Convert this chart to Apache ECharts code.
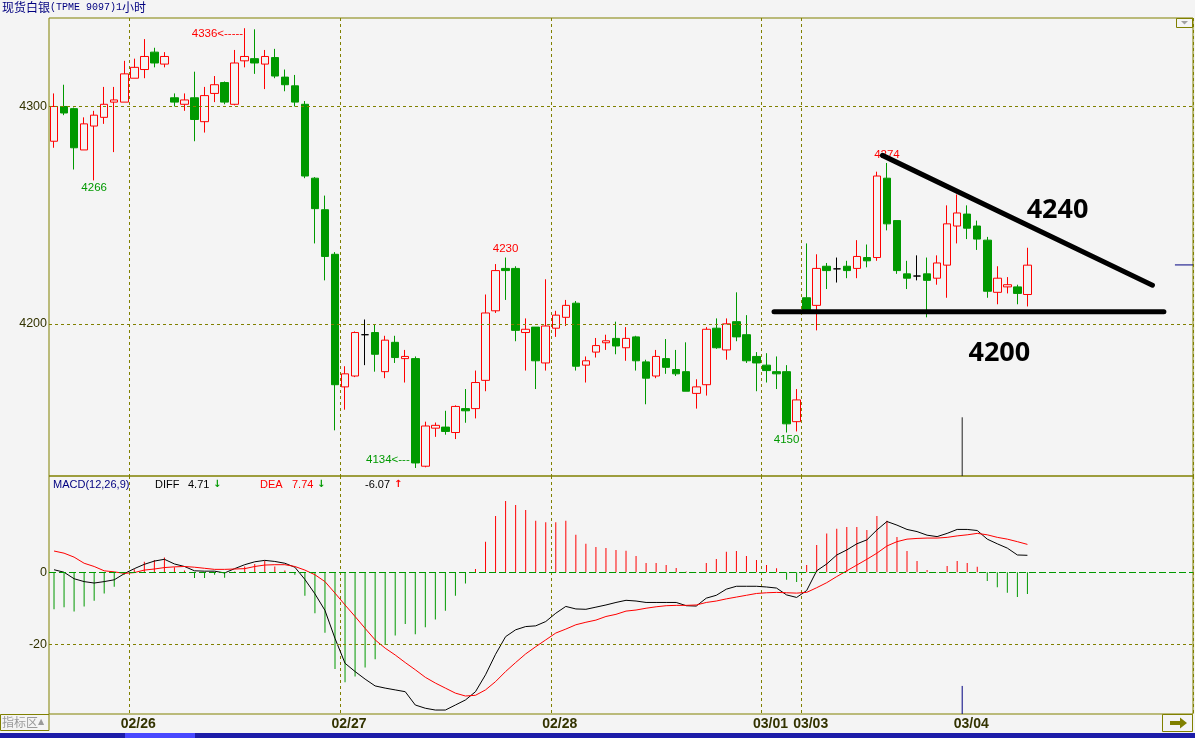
<!DOCTYPE html>
<html><head><meta charset="utf-8">
<script src="https://cdn.jsdelivr.net/npm/echarts@6/dist/echarts.min.js"></script>
<style>html,body{margin:0;padding:0;background:#f4f4f4;}#c{width:1195px;height:738px;}</style>
</head><body><div id="c"></div>
<script>
// ---------------- data ----------------
const opens = [4284,4300,4299,4280,4291,4295,4302,4302,4313,4317,
  4325,4319.5,4304,4301,4304,4293,4306,4311,4301,4321,
  4322,4319.5,4322.5,4313.5,4309.5,4301,4267,4252.5,4232,4171,
  4176,4195,4196,4178,4191.5,4184,4184,4134.5,4152,4152.5,
  4150,4161,4161,4174,4206,4225.5,4225.5,4196,4198.5,4182,
  4198,4203,4209.5,4181,4187,4191.3,4193.3,4189,4194,4182.5,
  4176,4184,4179,4178,4168,4172,4198,4188,4201,4195,
  4185,4181,4178,4178,4155,4212,4208.5,4226.5,4225.3,4226.5,
  4225.5,4230.5,4230.5,4267,4247.5,4223,4222,4223,4221,4227,
  4245,4250.5,4245,4238.5,4214.5,4217,4217,4213.5];
const closes = [4300,4297,4281,4292,4296,4301,4303,4315,4318,4323,
  4320,4323,4302,4303,4294,4305,4310,4302,4320,4323,
  4320,4323,4314,4310,4302,4268,4253,4231,4172,4177,
  4196,4195,4186,4192.5,4184.5,4185,4136,4153,4153.3,4150.5,
  4162,4160,4173,4205,4224.5,4224.5,4197,4197.5,4183,4199,
  4204,4208.5,4180.5,4183,4190,4192.2,4189.8,4193.3,4183,4175,
  4185,4180,4177,4169,4171,4197.5,4189,4200,4194,4183,
  4182,4178.5,4177,4154,4165,4206.5,4225.5,4224.5,4225.3,4224.5,
  4231,4229,4268,4246,4224.5,4221,4222,4220,4228,4246,
  4251,4244,4239,4215,4221,4218,4214,4227];
const lows = [4281,4296,4271,4280,4266,4292,4279,4302,4313,4313,
  4318,4318,4300,4298,4284,4288,4302,4301,4300.5,4318,
  4315,4308,4313,4307,4300,4267,4237,4220,4151,4160.5,
  4175.5,4181,4178,4175,4182,4173,4133.7,4134,4148,4149,
  4147,4154.5,4156.5,4169,4205,4211,4192,4178.5,4170,4178.5,
  4194,4199,4178.5,4173,4184.5,4188,4186,4183,4178.5,4163,
  4175,4177,4176,4169,4161,4167,4188.5,4183.5,4192,4182,
  4169,4173,4170,4150,4150.5,4205,4197,4216,4219,4221,
  4221,4226,4229,4243,4223,4216,4220,4203,4218,4212,
  4237,4239,4234,4212,4209,4214,4209,4208];
const highs = [4306,4310,4299.5,4295,4298,4309,4309,4321,4322,4331,
  4327,4325,4306,4306,4316,4309,4314,4311.5,4326,4336,
  4335.5,4326,4326.5,4317,4314.5,4302.5,4267.5,4259,4233,4180.5,
  4196.5,4202,4199.5,4194.5,4194.5,4188,4185,4155,4154.6,4160,
  4162.5,4170,4178.5,4213.5,4227.5,4230.5,4226.5,4202.5,4198.5,4220.5,
  4206,4211,4210.5,4185,4193.5,4195,4201,4198.5,4194.5,4183.5,
  4188,4193,4188,4191.5,4174.5,4198.5,4202.5,4202.5,4214.5,4204,
  4187,4186.5,4185,4181,4170,4237,4232,4228,4230.5,4229,
  4238.5,4236.5,4270,4274,4247.5,4229,4231.5,4230.5,4231.5,4254.5,
  4259.5,4254.5,4247.5,4240,4226.5,4221.5,4218,4235];
const macdHist = [-10.3,-9.7,-10.9,-9.5,-7.9,-5.9,-4.0,-0.7,0.8,2.9,
  3.4,4.1,1.4,0.5,-1.6,-1.6,-0.7,-1.5,0.2,1.6,
  2.3,3.2,1.6,0.5,-0.7,-6.5,-11.4,-16.8,-26.9,-30.6,
  -29.0,-26.5,-24.2,-20.2,-17.6,-14.4,-17.2,-15.3,-13.1,-10.7,
  -6.5,-3.1,0.9,8.5,15.6,19.8,18.7,17.3,14.3,13.9,
  13.9,14.3,10.4,7.9,7.0,6.75,6.2,6.0,4.5,2.6,
  2.6,2.0,1.2,0.2,0.1,2.6,3.7,5.7,5.9,4.5,
  3.4,2.0,1.1,-2.1,-2.7,2.0,7.6,10.8,12.1,12.6,
  12.6,11.75,15.6,14.3,9.8,5.9,3.1,0.6,0.1,1.75,
  3.1,2.6,1.5,-2.4,-4.2,-5.7,-6.9,-6.07];
const diffLine = [0.7,0.0,-1.8,-2.6,-3.0,-2.6,-2.1,-0.4,1.0,2.2,
  3.1,3.6,2.3,1.6,0.4,0.3,0.3,-0.2,1.0,2.1,
  2.9,3.3,3.0,2.5,1.4,-2.0,-6.0,-10.6,-18.4,-25.3,
  -27.6,-29.7,-31.6,-32.2,-32.7,-33.2,-36.9,-37.8,-38.3,-38.3,
  -36.9,-35.5,-33.2,-28.5,-22.8,-17.9,-16.0,-15.1,-14.9,-13.7,
  -11.4,-9.5,-10.2,-10.3,-9.7,-9.1,-8.4,-7.8,-8.0,-8.4,
  -8.4,-8.4,-8.4,-9.3,-9.4,-7.2,-6.4,-4.7,-3.9,-3.9,
  -3.9,-4.1,-4.4,-6.3,-7.0,-5.1,0.4,2.3,4.8,6.2,
  7.9,9.0,11.75,14.1,13.1,11.9,11.3,10.3,9.9,10.8,
  11.9,11.9,11.6,9.2,7.9,6.7,4.8,4.71];
const deaLine = [5.9,5.3,4.2,2.5,1.6,0.4,0.1,-0.3,-0.1,0.6,
  0.9,1.3,1.5,1.6,1.4,1.1,0.8,0.8,0.9,1.0,
  1.6,2.0,2.1,2.1,1.6,0.6,-0.7,-2.6,-5.8,-9.1,
  -12.3,-15.6,-18.8,-21.1,-23.0,-25.1,-27.1,-29.2,-30.8,-32.2,
  -33.6,-34.4,-34.2,-32.7,-30.4,-27.6,-25.1,-22.7,-20.7,-18.8,
  -16.9,-15.8,-14.6,-13.9,-13.3,-12.3,-11.7,-10.8,-10.5,-10.0,
  -9.6,-9.3,-9.2,-9.2,-9.1,-8.4,-8.0,-7.4,-6.9,-6.4,
  -5.9,-5.7,-5.6,-5.7,-5.8,-5.6,-4.3,-2.9,-1.2,0.4,
  2.0,3.6,5.3,7.3,8.5,9.2,9.4,9.5,9.5,9.7,
  10.1,10.4,10.8,10.4,9.7,9.2,8.5,7.74];
const slotCount = 114;                       // candle slots across the panel (98 used)
const dayStarts = {8:'02/26', 29:'02/27', 50:'02/28', 71:'03/01', 75:'03/03', 91:'03/04'};
const dividerIdx = [8, 29, 50, 71, 75];
const yTicksMain = [4200, 4300];
const yTicksMacd = [0, -20];
const extremes = [
  {idx:19, price:4336,   text:'4336<-----', kind:'high', side:'left'},
  {idx:4,  price:4266,   text:'4266',       kind:'low',  side:'bottom'},
  {idx:45, price:4230.5, text:'4230',       kind:'high', side:'top'},
  {idx:36, price:4133.7, text:'4134<---',   kind:'low',  side:'left'},
  {idx:73, price:4150,   text:'4150',       kind:'low',  side:'bottom'},
  {idx:83, price:4274,   text:'4274',       kind:'high', side:'top'}
];
const supportLine = [[71.75, 4205.6], [110.6, 4205.6]];
const resistanceLine = [[82.55, 4277.5], [109.46, 4217.8]];
const drawnLabels = [[100.0, 4252.0, '4240'], [94.2, 4186.4, '4200']];
const cursorMain = [[90.5, 4157], [90.5, 4130]];
const cursorMacd = [[90.5, -31.6], [90.5, -39.4]];
const lastPriceTick = [[111.7, 4227.1], [113.5, 4227.1]];
const headerDiff = '4.71', headerDea = '7.74', headerMacd = '-6.07';

// ---------------- styling ----------------
const BG = '#f4f4f4', OLIVE = '#808000', RED = '#ff0000', GREEN = '#009900', NAVY = '#000080';
const NARROW = "'Liberation Sans Narrow','Liberation Sans',Arial,sans-serif";
const SMALL = 11.5;
const slots = Array.from({length: slotCount}, (_, i) => 's' + i);
const candleData = opens.map((o, i) => [o, closes[i], lows[i], highs[i]]);

const dividerSplit = {
  show: true,
  interval: (i) => dividerIdx.indexOf(i) >= 0,
  lineStyle: {color: OLIVE, type: [3, 3], width: 1}
};
const extremeStyle = {
  high: {color: RED, offsetLeft: [0, 6]},
  low: {color: GREEN, offsetLeft: [0, -8]}
};
const markPts = extremes.map(e => ({
  coord: [e.idx, e.price],
  symbol: 'rect', symbolSize: 1,
  itemStyle: {color: 'rgba(0,0,0,0)'},
  label: {
    show: true, formatter: e.text, position: e.side,
    distance: e.side === 'left' ? (e.kind === 'low' ? 5 : 1) : (e.side === 'top' ? 2 : 1),
    offset: e.side === 'left' ? extremeStyle[e.kind].offsetLeft : [0, 0],
    color: extremeStyle[e.kind].color, fontSize: SMALL, fontFamily: NARROW
  }
}));

const option = {
  backgroundColor: BG,
  animation: false,
  grid: [
    {left: 49, right: 2, top: 18, height: 458, show: true, borderColor: OLIVE, borderWidth: 1, backgroundColor: 'transparent', outerBoundsMode: 'none', containLabel: false},
    {left: 49, right: 2, top: 476, height: 238, show: true, borderColor: OLIVE, borderWidth: 1, backgroundColor: 'transparent', outerBoundsMode: 'none', containLabel: false}
  ],
  xAxis: [
    {type: 'category', gridIndex: 0, data: slots, boundaryGap: true,
     axisLine: {show: false}, axisTick: {show: false}, axisLabel: {show: false}, splitLine: dividerSplit},
    {type: 'value', gridIndex: 0, min: -0.5, max: slotCount - 0.5, show: false},
    {type: 'category', gridIndex: 1, data: slots, boundaryGap: true,
     axisLine: {show: false}, axisTick: {show: false},
     axisLabel: {show: true, interval: (i) => dayStarts[i] !== undefined,
       formatter: (v, i) => dayStarts[i] || '', margin: 3, padding: [0, 0, 0, 8],
       color: '#333300', fontWeight: 'bold', fontSize: 14, fontFamily: "'Liberation Sans',Arial,sans-serif"},
     splitLine: dividerSplit},
    {type: 'value', gridIndex: 1, min: -0.5, max: slotCount - 0.5, show: false}
  ],
  yAxis: [
    {type: 'value', gridIndex: 0, min: 4130, max: 4340.7, scale: true,
     axisLine: {show: false}, axisTick: {show: false}, splitLine: {show: false},
     axisLabel: {formatter: v => yTicksMain.some(t => Math.abs(t - v) < 1e-6) ? String(v) : '',
       margin: 2, color: '#333300', fontSize: 12.5, fontFamily: NARROW}},
    {type: 'value', gridIndex: 1, min: -39.4, max: 26.75,
     axisLine: {show: false}, axisTick: {show: false}, splitLine: {show: false},
     axisLabel: {formatter: v => yTicksMacd.some(t => Math.abs(t - v) < 1e-6) ? String(Math.round(v)) : '',
       margin: 2, color: '#333300', fontSize: 12.5, fontFamily: NARROW}}
  ],
  series: [
    {type: 'line', name: 'guidesMain', xAxisIndex: 0, yAxisIndex: 0, data: [], z: 1, silent: true,
     markLine: {silent: true, symbol: ['none', 'none'], label: {show: false},
       lineStyle: {color: OLIVE, type: [3, 3], width: 1},
       data: yTicksMain.map(v => ({yAxis: v}))}},
    {type: 'candlestick', xAxisIndex: 0, yAxisIndex: 0, z: 3, barWidth: 8, silent: true,
     data: candleData,
     itemStyle: {color: BG, color0: GREEN, borderColor: RED, borderColor0: GREEN, borderColorDoji: '#000000', borderWidth: 1},
     emphasis: {disabled: true},
     markPoint: {silent: true, data: markPts}},
    {type: 'bar', xAxisIndex: 2, yAxisIndex: 1, data: macdHist, barWidth: 1, z: 2, silent: true,
     itemStyle: {color: p => p.value >= 0 ? RED : GREEN},
     markLine: {silent: true, symbol: ['none', 'none'], label: {show: false},
       data: [
         {yAxis: yTicksMacd[0], lineStyle: {color: GREEN, type: [7, 3], width: 1}},
         {yAxis: yTicksMacd[1], lineStyle: {color: OLIVE, type: [3, 3], width: 1}}
       ]}},
    {type: 'line', xAxisIndex: 2, yAxisIndex: 1, data: diffLine, symbol: 'none', z: 3, silent: true,
     lineStyle: {color: '#000000', width: 1}},
    {type: 'line', xAxisIndex: 2, yAxisIndex: 1, data: deaLine, symbol: 'none', z: 3, silent: true,
     lineStyle: {color: RED, width: 1}},
    {type: 'line', xAxisIndex: 1, yAxisIndex: 0, data: supportLine, symbol: 'none', z: 6, silent: true,
     lineStyle: {color: '#000000', width: 5, cap: 'round'}},
    {type: 'line', xAxisIndex: 1, yAxisIndex: 0, data: resistanceLine, symbol: 'none', z: 6, silent: true,
     lineStyle: {color: '#000000', width: 5, cap: 'round'}},
    {type: 'scatter', xAxisIndex: 1, yAxisIndex: 0, data: drawnLabels, symbolSize: 1, z: 6, silent: true,
     itemStyle: {color: 'rgba(0,0,0,0)'},
     label: {show: true, position: 'inside', formatter: p => p.value[2], color: '#000000',
       textBorderWidth: 0, opacity: 1,
       fontSize: 27, fontWeight: 'bold', fontFamily: "'Open Sans','DejaVu Sans',sans-serif"}},
    {type: 'line', xAxisIndex: 1, yAxisIndex: 0, data: cursorMain, symbol: 'none', z: 4, silent: true,
     lineStyle: {color: '#202020', width: 1}},
    {type: 'line', xAxisIndex: 3, yAxisIndex: 1, data: cursorMacd, symbol: 'none', z: 4, silent: true,
     lineStyle: {color: NAVY, width: 1}},
    {type: 'line', xAxisIndex: 1, yAxisIndex: 0, data: lastPriceTick, symbol: 'none', z: 4, silent: true,
     lineStyle: {color: NAVY, width: 1}}
  ],
  graphic: [
    {type: 'text', left: 2, top: 1, silent: true,
     style: {text: '{a|现货白银}{b|(TPME 9097)1}{a|小时}',
       rich: {
         a: {fontSize: 12, fontFamily: "'Noto Sans CJK SC',sans-serif", fill: NAVY},
         b: {fontSize: 10, fontFamily: "'Liberation Mono','DejaVu Sans Mono',monospace", fill: NAVY}
       }}},
    {type: 'text', x: 53, y: 479, silent: true, style: {text: 'MACD(12,26,9)', fill: NAVY, font: "11px 'Liberation Sans',sans-serif"}},
    {type: 'text', x: 155, y: 479, silent: true, style: {text: 'DIFF', fill: '#000', font: "11px 'Liberation Sans',sans-serif"}},
    {type: 'text', x: 188, y: 479, silent: true, style: {text: headerDiff, fill: '#000', font: "11px 'Liberation Sans',sans-serif"}},
    {type: 'text', x: 213, y: 479, silent: true, style: {text: '↓', fill: GREEN, font: "bold 10px 'DejaVu Sans',sans-serif"}},
    {type: 'text', x: 260, y: 479, silent: true, style: {text: 'DEA', fill: RED, font: "11px 'Liberation Sans',sans-serif"}},
    {type: 'text', x: 292, y: 479, silent: true, style: {text: headerDea, fill: RED, font: "11px 'Liberation Sans',sans-serif"}},
    {type: 'text', x: 317, y: 479, silent: true, style: {text: '↓', fill: GREEN, font: "bold 10px 'DejaVu Sans',sans-serif"}},
    {type: 'text', x: 365, y: 479, silent: true, style: {text: headerMacd, fill: '#000', font: "11px 'Liberation Sans',sans-serif"}},
    {type: 'text', x: 394, y: 479, silent: true, style: {text: '↑', fill: RED, font: "bold 10px 'DejaVu Sans',sans-serif"}},
    // bottom chrome
    {type: 'rect', silent: true, shape: {x: 0.5, y: 714.5, width: 48.5, height: 16}, style: {fill: 'none', stroke: OLIVE, lineWidth: 1}},
    {type: 'text', x: 2, y: 716, silent: true, style: {text: '指标区', fill: '#9a9a9a', font: "12px 'Noto Sans CJK SC',sans-serif"}},
    {type: 'text', x: 38, y: 718, silent: true, style: {text: '▲', fill: '#9a9a9a', font: "8px 'DejaVu Sans',sans-serif"}},
    {type: 'rect', silent: true, shape: {x: 0, y: 733, width: 1195, height: 5}, style: {fill: '#1c1ca8'}},
    {type: 'rect', silent: true, shape: {x: 125, y: 733, width: 70, height: 5}, style: {fill: '#4848ff'}},
    {type: 'rect', silent: true, shape: {x: 1162.5, y: 714.5, width: 30, height: 17}, style: {fill: 'none', stroke: OLIVE, lineWidth: 1}},
    {type: 'polygon', silent: true, shape: {points: [[1170, 721], [1180, 721], [1180, 717.5], [1187, 723], [1180, 728.5], [1180, 725], [1170, 725]]}, style: {fill: OLIVE}},
    {type: 'rect', silent: true, shape: {x: 1176.5, y: 18.5, width: 16, height: 9}, style: {fill: 'none', stroke: OLIVE, lineWidth: 1}},
    {type: 'polygon', silent: true, shape: {points: [[1181, 21], [1188, 21], [1184.5, 24.5]]}, style: {fill: '#a0a0a0'}}
  ]
};

const chart = echarts.init(document.getElementById('c'), null, {renderer: 'canvas', width: 1195, height: 738});
chart.setOption(option);
</script>
</body></html>
